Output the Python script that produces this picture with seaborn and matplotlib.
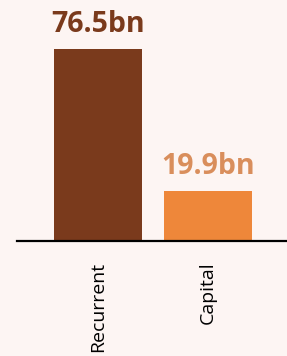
import seaborn as sns
import matplotlib.pyplot as plt
import pandas as pd

categories = ["Recurrent", "Capital"]
values = [76.5, 19.9]
labels = ["76.5bn", "19.9bn"]

bar_colors = ["#7A3A1C", "#EE873A"]
text_colors = ["#7A3A1C", "#D98E5C"]
bg = "#FDF5F3"

df = pd.DataFrame({"category": categories, "value": values})

sns.set_style("white")
plt.rcParams['font.family'] = ['Open Sans', 'Noto Sans', 'DejaVu Sans']

fig = plt.figure(figsize=(2.87, 3.56), dpi=100, facecolor=bg)
ax = fig.add_axes([17 / 287, 1 - 241 / 356, 270 / 287, 241 / 356])
ax.set_facecolor(bg)

sns.barplot(data=df, x="category", y="value", hue="category",
            palette=bar_colors, width=0.8, saturation=1, legend=False,
            linewidth=0, ax=ax)

for i, (v, lab) in enumerate(zip(values, labels)):
    ax.annotate(lab, (i, v), xytext=(0, 7), textcoords="offset points",
                ha="center", va="bottom", fontsize=20.5, fontweight="bold",
                color=text_colors[i])

ax.set_xlim(-0.736, 1.718)
ax.set_ylim(0, 96)
ax.set_xlabel("")
ax.set_ylabel("")
ax.set_yticks([])
ax.tick_params(axis="x", length=0, pad=15, labelsize=14, labelcolor="black")
for lab in ax.get_xticklabels():
    lab.set_rotation(90)
    lab.set_va("top")

for s in ["top", "right", "left"]:
    ax.spines[s].set_visible(False)
ax.spines["bottom"].set_color("black")
ax.spines["bottom"].set_linewidth(1.6)

fig.savefig("out.png", dpi=100, facecolor=bg)
